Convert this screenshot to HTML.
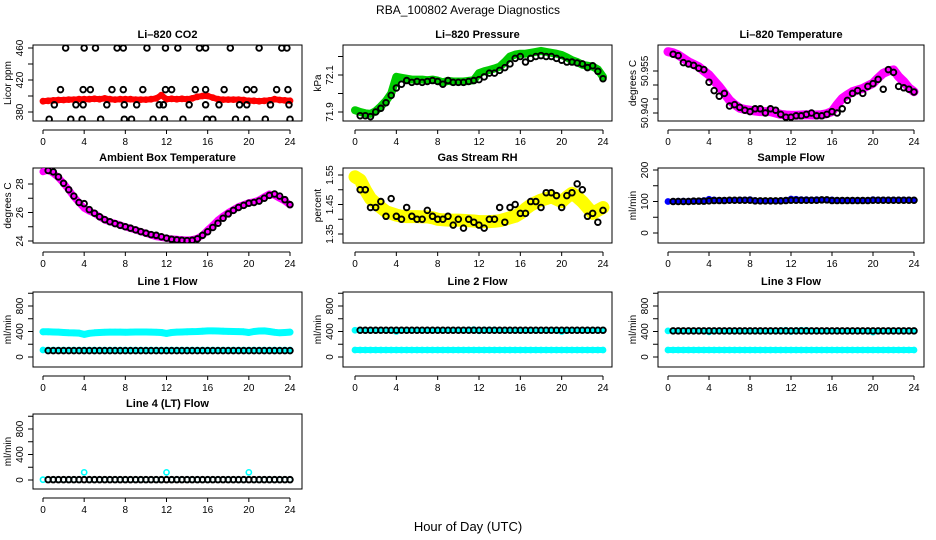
<!DOCTYPE html>
<html><head><meta charset="utf-8">
<style>
html,body{margin:0;padding:0;background:#fff;}
svg{display:block;font-family:"Liberation Sans",Arial,sans-serif;}
</style></head>
<body>
<svg id="chart" width="936" height="540" viewBox="0 0 936 540" xmlns="http://www.w3.org/2000/svg">
<rect width="936" height="540" fill="#fff"/>
<text x="468" y="14" text-anchor="middle" font-size="12">RBA_100802  Average Diagnostics</text>
<text x="468" y="531" text-anchor="middle" font-size="13">Hour of Day (UTC)</text>
</svg>
<script>
// ---- data ----
const hours = [0,0.5,1,1.5,2,2.5,3,3.5,4,4.5,5,5.5,6,6.5,7,7.5,8,8.5,9,9.5,10,10.5,11,11.5,12,12.5,13,13.5,14,14.5,15,15.5,16,16.5,17,17.5,18,18.5,19,19.5,20,20.5,21,21.5,22,22.5,23,23.5,24];
const blackHours = [0.5,1,1.5,2,2.5,3,3.5,4,4.5,5,5.5,6,6.5,7,7.5,8,8.5,9,9.5,10,10.5,11,11.5,12,12.5,13,13.5,14,14.5,15,15.5,16,16.5,17,17.5,18,18.5,19,19.5,20,20.5,21,21.5,22,22.5,23,23.5,24];

const co2Red = [393.5,394,394.5,395,395,395.5,395.5,396,396,396,396.5,396,397,396,395.5,396,396,396,395.5,395.5,395.5,396,397,401,396,396.5,396,396.5,396,397,399,400,400,398,396,395.5,395.5,395.5,395.5,395,394,394,393.5,394,394.5,396,395,394.5,394];
const co2BlackHours = [2.2,4.0,5.1,7.2,7.8,10.1,11.9,13.1,15.2,15.8,18.2,21.0,23.2,23.7,1.7,3.9,4.6,6.7,7.8,9.7,11.9,12.5,14.8,15.8,17.6,19.8,20.5,22.7,23.8,1.1,3.2,3.9,6.2,7.9,9.1,11.3,11.7,14.2,15.8,17.1,19.1,19.8,22.1,23.9,0.6,2.7,3.8,5.6,7.9,8.6,10.7,11.8,13.6,15.9,16.5,18.7,19.8,21.6,24.0];
const co2BlackValues = [460,460,460,460,460,460,460,460,460,460,460,460,460,460,408,408,408,408,408,408,408,408,408,408,408,408,408,408,408,389,389,389,389,389,389,389,389,389,389,389,389,389,389,389,371,371,371,371,371,371,371,371,371,371,371,371,371,371,371];

const pressGreen = [71.91,71.90,71.893,71.89,71.905,71.93,71.96,72.0,72.09,72.085,72.08,72.075,72.075,72.075,72.072,72.075,72.07,72.06,72.068,72.065,72.065,72.065,72.068,72.072,72.11,72.12,72.127,72.135,72.145,72.17,72.2,72.21,72.215,72.215,72.22,72.225,72.23,72.225,72.22,72.215,72.208,72.195,72.18,72.17,72.155,72.15,72.145,72.13,72.09];
const pressBlack = [71.88,71.88,71.875,71.9,71.92,71.95,71.99,72.03,72.05,72.07,72.06,72.065,72.06,72.065,72.07,72.065,72.05,72.07,72.06,72.06,72.06,72.065,72.07,72.075,72.09,72.11,72.11,72.125,72.14,72.16,72.19,72.2,72.17,72.19,72.2,72.205,72.2,72.2,72.19,72.18,72.17,72.17,72.165,72.16,72.14,72.15,72.12,72.08];

const tempMag = [50.9619,50.9615,50.9607,50.9595,50.9583,50.9574,50.9565,50.955,50.9536,50.9515,50.9494,50.947,50.9446,50.943,50.9417,50.9413,50.941,50.9407,50.9405,50.9405,50.9405,50.94,50.9395,50.9393,50.9392,50.9392,50.9393,50.9394,50.9393,50.9393,50.9394,50.9398,50.9405,50.943,50.9452,50.9465,50.9476,50.9482,50.9488,50.9497,50.9506,50.9525,50.9542,50.955,50.9554,50.953,50.9512,50.949,50.9476];
const tempBlack = [50.961,50.9605,50.958,50.9575,50.957,50.956,50.9555,50.951,50.948,50.946,50.947,50.9425,50.943,50.942,50.941,50.9405,50.9415,50.9415,50.940,50.9415,50.941,50.9395,50.9385,50.9385,50.939,50.939,50.9395,50.940,50.939,50.939,50.9395,50.9405,50.940,50.9415,50.9445,50.947,50.948,50.947,50.9495,50.9505,50.952,50.9485,50.9555,50.9545,50.9495,50.949,50.9485,50.9475];

const ambMag = [28.86,28.98,28.75,28.45,28.05,27.6,27.1,26.7,26.3,26.1,25.94,25.7,25.47,25.35,25.24,25.12,25.0,24.88,24.77,24.65,24.54,24.42,24.30,24.25,24.19,24.15,24.12,24.09,24.07,24.1,24.19,24.4,24.77,25.1,25.47,25.75,25.99,26.2,26.41,26.55,26.69,26.75,26.88,27.1,27.3,27.2,27.0,26.8,26.53];
const ambBlack = [28.95,28.85,28.5,28.05,27.6,27.15,26.7,26.62,26.2,25.95,25.7,25.5,25.35,25.22,25.1,25.0,24.9,24.78,24.66,24.55,24.45,24.4,24.3,24.2,24.12,24.08,24.05,24.03,24.05,24.15,24.4,24.65,24.95,25.25,25.6,25.9,26.15,26.35,26.5,26.65,26.7,26.8,27.0,27.2,27.3,27.15,26.9,26.55];

const rhYellow = [1.544,1.533,1.499,1.47,1.454,1.44,1.426,1.42,1.414,1.41,1.409,1.409,1.409,1.408,1.408,1.405,1.40,1.398,1.397,1.397,1.397,1.396,1.395,1.394,1.392,1.392,1.392,1.393,1.395,1.40,1.405,1.41,1.42,1.435,1.448,1.457,1.465,1.47,1.476,1.468,1.46,1.475,1.488,1.475,1.46,1.44,1.42,1.43,1.44];
const rhBlack = [1.50,1.50,1.44,1.44,1.46,1.41,1.47,1.41,1.40,1.44,1.41,1.40,1.40,1.43,1.41,1.40,1.40,1.41,1.38,1.40,1.37,1.40,1.39,1.38,1.37,1.40,1.40,1.44,1.39,1.44,1.45,1.42,1.42,1.46,1.46,1.44,1.49,1.49,1.48,1.44,1.48,1.49,1.52,1.50,1.41,1.42,1.39,1.43];

const sampleBlue = [100,100,101,101,101,102,102,103,107,105,104,104,104,104,105,105,106,103,102,102,102,102,103,104,108,107,106,106,105,106,106,106,105,104,104,104,104,104,104,104,106,105,105,105,105,105,105,105,104];
const sampleBlack = [100,100,100,100,101,101,101,102,103,103,103,104,104,104,104,104,102,102,102,102,102,102,103,104,104,104,104,104,104,105,105,103,103,103,103,103,103,103,103,104,104,104,104,104,104,104,104,104];

const line1Upper = [395,395,392,390,385,380,378,375,355,372,380,385,388,390,390,390,388,390,392,392,392,390,388,385,370,385,390,392,395,398,400,405,410,410,408,405,402,400,398,395,385,400,408,410,400,388,380,385,390];
const line1Lower = [110,110,110,110,110,110,110,110,110,110,110,110,110,110,110,110,110,110,110,110,110,110,110,110,110,110,110,110,110,110,110,110,110,110,110,110,110,110,110,110,110,110,110,110,110,110,110,110,110];
const line1Black = [100,100,100,100,100,100,100,100,100,100,100,100,100,100,100,100,100,100,100,100,100,100,100,100,100,100,100,100,100,100,100,100,100,100,100,100,100,100,100,100,100,100,100,100,100,100,100,100];

const line2Upper = [420,420,420,420,420,420,420,420,400,420,420,420,420,420,420,420,420,420,420,420,420,420,425,430,410,425,425,425,420,420,420,420,420,420,420,420,420,420,420,420,400,420,420,420,420,420,420,420,420];
const line2Lower = [110,110,110,110,110,110,110,110,110,110,110,110,110,110,110,110,110,110,110,110,110,110,110,110,110,110,110,110,110,110,110,110,110,110,110,110,110,110,110,110,110,110,110,110,110,110,110,110,110];
const line2Black = [420,420,420,420,420,420,420,420,420,420,420,420,420,420,420,420,420,420,420,420,420,420,420,420,420,420,420,420,420,420,420,420,420,420,420,420,420,420,420,420,420,420,420,420,420,420,420,420];

const line3Upper = [410,410,410,410,410,410,410,410,395,410,410,410,410,410,410,410,410,410,410,410,410,410,415,420,400,415,420,420,410,410,410,410,410,410,410,410,410,410,410,410,390,410,410,410,410,410,410,410,410];
const line3Lower = [110,110,110,110,110,110,110,110,110,110,110,110,110,110,110,110,110,110,110,110,110,110,110,110,110,110,110,110,110,110,110,110,110,110,110,110,110,110,110,110,110,110,110,110,110,110,110,110,110];
const line3Black = [410,410,410,410,410,410,410,410,410,410,410,410,410,410,410,410,410,410,410,410,410,410,410,410,410,410,410,410,410,410,410,410,410,410,410,410,410,410,410,410,410,410,410,410,410,410,410,410];

const line4Cyan = [5,5,5,5,5,5,5,5,120,5,5,5,5,5,5,5,5,5,5,5,5,5,5,5,120,5,5,5,5,5,5,5,5,5,5,5,5,5,5,5,120,5,5,5,5,5,5,5,5];
const line4Black = [5,5,5,5,5,5,5,5,5,5,5,5,5,5,5,5,5,5,5,5,5,5,5,5,5,5,5,5,5,5,5,5,5,5,5,5,5,5,5,5,5,5,5,5,5,5,5,5];

const xTicks = [0,4,8,12,16,20,24];

// ---- drawing ----
const svg = document.getElementById('chart');
const NS = 'http://www.w3.org/2000/svg';
function mk(tag, attrs, parent){
  const e = document.createElementNS(NS, tag);
  for (const k in attrs) e.setAttribute(k, attrs[k]);
  (parent||svg).appendChild(e);
  return e;
}
const cols = [{L:33,R:302,x0:43,x24:290},{L:343,R:612,x0:355,x24:603},{L:658,R:924,x0:668,x24:914}];
const rows = [{T:45,B:121},{T:168,B:243},{T:292,B:367},{T:414,B:489}];

function panel(p){
  const c = cols[p.col], r = rows[p.row];
  const g = mk('g', {});
  
  
  const xs = h => c.x0 + (c.x24 - c.x0) * h / 24;
  const ys = v => p.y1 + (v - p.v1) * (p.y2 - p.y1) / (p.v2 - p.v1);
  const clip = 'clip-' + p.name;
  const cp = mk('clipPath', {id: clip}, g);
  mk('rect', {x:c.L, y:r.T, width:c.R-c.L, height:r.B-r.T}, cp);
  const t = mk('text', {x:(c.L+c.R)/2, y:r.T-7, 'text-anchor':'middle', 'font-size':11, 'font-weight':'bold'}, g);
  t.textContent = p.title;
  
  
  const box = mk('rect', {x:c.L, y:r.T, width:c.R-c.L, height:r.B-r.T, fill:'none', stroke:'#000', 'stroke-width':1}, g);
  
  
  const ax = mk('g', {}, g);
  
  
  const ay0 = r.B + 9;
  mk('line', {x1:xs(0), x2:xs(24), y1:ay0, y2:ay0, stroke:'#000'}, ax);
  xTicks.forEach(h => {
    mk('line', {x1:xs(h), x2:xs(h), y1:ay0, y2:ay0+4, stroke:'#000'}, ax);
    const tl = mk('text', {x:xs(h), y:ay0+15, 'text-anchor':'middle', 'font-size':10}, ax);
    tl.textContent = h;
    
    
  });
  const yax = mk('g', {}, g);
  
  
  p.yTicks.forEach(v => {
    mk('line', {x1:c.L-5, x2:c.L, y1:ys(v), y2:ys(v), stroke:'#000'}, yax);
  });
  p.yLabels.forEach((lab, i) => {
    const v = p.yLabelVals[i];
    const tl = mk('text', {x:c.L-10, y:ys(v), 'text-anchor':'middle', 'font-size':10, transform:`rotate(-90 ${c.L-10} ${ys(v)})`}, yax);
    tl.textContent = lab;
    
    
  });
  const yt = mk('text', {x:c.L-22, y:(r.T+r.B)/2, 'text-anchor':'middle', 'font-size':10, transform:`rotate(-90 ${c.L-22} ${(r.T+r.B)/2})`}, yax);
  yt.textContent = p.ylab;
  
  
  const sg = mk('g', {'clip-path':`url(#${clip})`}, g);
  p.series.forEach(s => {
    const sgg = mk('g', {}, sg);
    
    
    if (s.band) {
      const pts = s.x.map((h,i) => xs(h).toFixed(1) + ',' + ys(s.y[i]).toFixed(1)).join(' ');
      const pl = mk('polyline', {points:pts, fill:'none', stroke:s.color, 'stroke-width':s.band, 'stroke-linejoin':'round', 'stroke-linecap':'round'}, sgg);
      
      
    }
    const black = s.color === '#000';
    s.x.forEach((h, i) => {
      const cc = mk('circle', {cx:xs(h), cy:ys(s.y[i]), r:black?2.8:2.6, fill:'none', stroke:s.color, 'stroke-width':black?1.9:1.6}, sgg);
      
      
    });
  });
}

const flowTicks = [0,200,400,600,800,1000];
panel({name:'panel-co2', col:0, row:0, title:'Li\u2013820 CO2', ylab:'Licor ppm', v1:380, y1:112, v2:460, y2:48,
  yTicks:[380,400,420,440,460], yLabelVals:[380,420,460], yLabels:['380','420','460'],
  series:[{name:'co2-red', x:hours, y:co2Red, color:'#ff0000', band:6},
          {name:'co2-black', x:co2BlackHours, y:co2BlackValues, color:'#000'}]});
panel({name:'panel-pressure', col:1, row:0, title:'Li\u2013820 Pressure', ylab:'kPa', v1:71.9, y1:112, v2:72.1, y2:75,
  yTicks:[71.9,72.0,72.1,72.2], yLabelVals:[71.9,72.1], yLabels:['71.9','72.1'],
  series:[{name:'pressure-green', x:hours, y:pressGreen, color:'#00cc00', band:8},
          {name:'pressure-black', x:blackHours, y:pressBlack, color:'#000'}]});
panel({name:'panel-temperature', col:2, row:0, title:'Li\u2013820 Temperature', ylab:'degrees C', v1:50.940, y1:113, v2:50.955, y2:71,
  yTicks:[50.940,50.945,50.950,50.955], yLabelVals:[50.940,50.955], yLabels:['50.940','50.955'],
  series:[{name:'temperature-magenta', x:hours, y:tempMag, color:'#ff00ff', band:9},
          {name:'temperature-black', x:blackHours, y:tempBlack, color:'#000'}]});
panel({name:'panel-ambient', col:0, row:1, title:'Ambient Box Temperature', ylab:'degrees C', v1:24, y1:241, v2:28, y2:184,
  yTicks:[24,25,26,27,28], yLabelVals:[24,26,28], yLabels:['24','26','28'],
  series:[{name:'ambient-magenta', x:hours, y:ambMag, color:'#ff00ff', band:7},
          {name:'ambient-black', x:blackHours, y:ambBlack, color:'#000'}]});
panel({name:'panel-rh', col:1, row:1, title:'Gas Stream RH', ylab:'percent', v1:1.35, y1:234, v2:1.55, y2:175,
  yTicks:[1.35,1.40,1.45,1.50,1.55], yLabelVals:[1.35,1.45,1.55], yLabels:['1.35','1.45','1.55'],
  series:[{name:'rh-yellow', x:hours, y:rhYellow, color:'#ffff00', band:13},
          {name:'rh-black', x:blackHours, y:rhBlack, color:'#000'}]});
panel({name:'panel-sample-flow', col:2, row:1, title:'Sample Flow', ylab:'ml/min', v1:0, y1:233, v2:200, y2:170,
  yTicks:[0,50,100,150,200], yLabelVals:[0,100,200], yLabels:['0','100','200'],
  series:[{name:'sample-blue', x:hours, y:sampleBlue, color:'#0000ff', band:5},
          {name:'sample-black', x:blackHours, y:sampleBlack, color:'#000'}]});
panel({name:'panel-line1', col:0, row:2, title:'Line 1 Flow', ylab:'ml/min', v1:0, y1:357, v2:800, y2:306,
  yTicks:flowTicks, yLabelVals:[0,400,800], yLabels:['0','400','800'],
  series:[{name:'line1-cyan-upper', x:hours, y:line1Upper, color:'#00ffff', band:7},
          {name:'line1-cyan-lower', x:hours, y:line1Lower, color:'#00ffff', band:5},
          {name:'line1-black', x:blackHours, y:line1Black, color:'#000'}]});
panel({name:'panel-line2', col:1, row:2, title:'Line 2 Flow', ylab:'ml/min', v1:0, y1:357, v2:800, y2:306,
  yTicks:flowTicks, yLabelVals:[0,400,800], yLabels:['0','400','800'],
  series:[{name:'line2-cyan-upper', x:hours, y:line2Upper, color:'#00ffff', band:5},
          {name:'line2-cyan-lower', x:hours, y:line2Lower, color:'#00ffff', band:6},
          {name:'line2-black', x:blackHours, y:line2Black, color:'#000'}]});
panel({name:'panel-line3', col:2, row:2, title:'Line 3 Flow', ylab:'ml/min', v1:0, y1:357, v2:800, y2:306,
  yTicks:flowTicks, yLabelVals:[0,400,800], yLabels:['0','400','800'],
  series:[{name:'line3-cyan-upper', x:hours, y:line3Upper, color:'#00ffff', band:5},
          {name:'line3-cyan-lower', x:hours, y:line3Lower, color:'#00ffff', band:6},
          {name:'line3-black', x:blackHours, y:line3Black, color:'#000'}]});
panel({name:'panel-line4', col:0, row:3, title:'Line 4 (LT) Flow', ylab:'ml/min', v1:0, y1:480, v2:800, y2:429,
  yTicks:flowTicks, yLabelVals:[0,400,800], yLabels:['0','400','800'],
  series:[{name:'line4-cyan', x:hours, y:line4Cyan, color:'#00ffff'},
          {name:'line4-black', x:blackHours, y:line4Black, color:'#000'}]});
</script>
</body></html>
